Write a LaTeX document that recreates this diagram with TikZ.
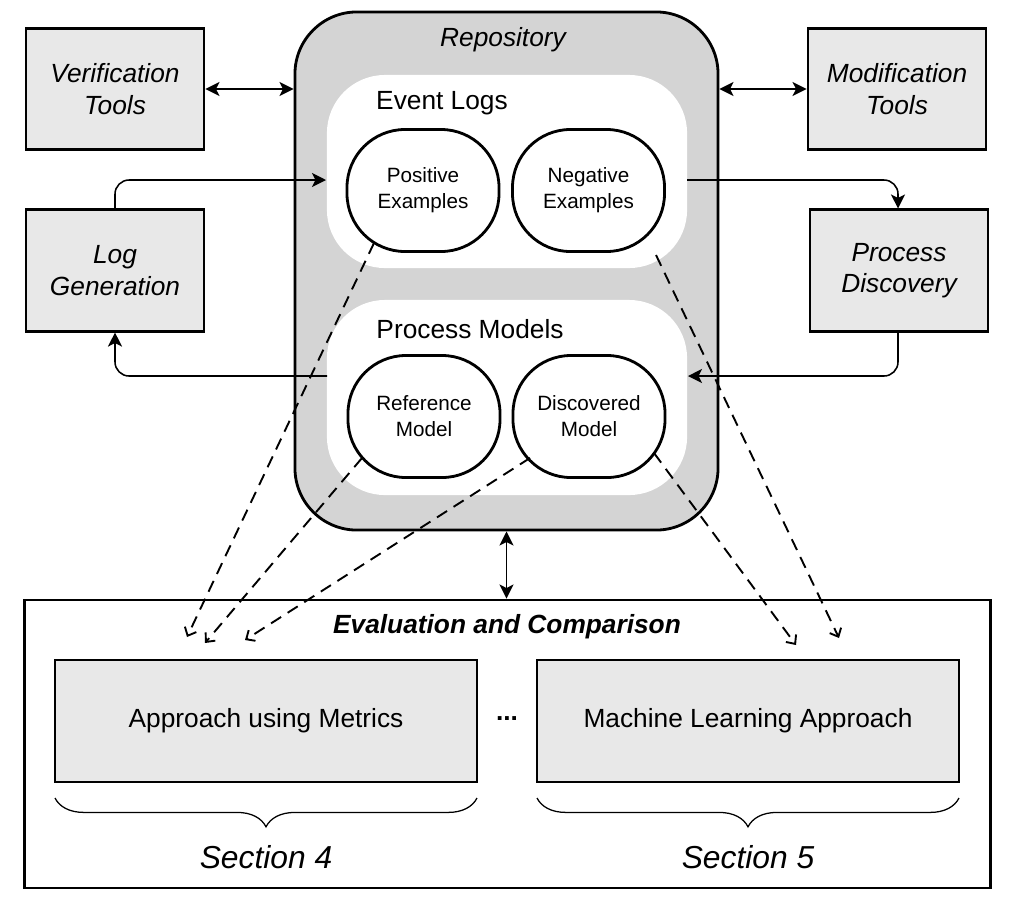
\documentclass[tikz,border=0pt]{standalone}
\usepackage{fontspec}
\setmainfont{Liberation Sans}
\usetikzlibrary{arrows.meta,shapes.geometric,decorations.pathreplacing,calc}
\definecolor{boxgray}{HTML}{E8E8E8}
\definecolor{repogray}{HTML}{D4D4D4}
\begin{document}
\begin{tikzpicture}[x=0.025cm,y=-0.025cm,
  bigfont/.style={font=\fontsize{18.7}{22.4}\selectfont},
  tool/.style={draw, line width=2pt, fill=boxgray, inner sep=0pt,
    minimum width=4.45cm, minimum height=3.03cm, align=center,
    font=\fontsize{18.7}{22.4}\selectfont\itshape},
  approach/.style={draw, line width=2pt, fill=boxgray, inner sep=0pt,
    minimum width=10.55cm, minimum height=3.05cm, align=center, bigfont},
  region/.style={fill=white, rounded corners=1.45cm, inner sep=0pt,
    minimum width=9cm},
  oval/.style={draw, line width=2pt, fill=white, rectangle, rounded corners=1.45cm, inner sep=0pt,
    minimum width=3.8cm, minimum height=3.05cm, align=center,
    font=\fontsize{14.7}{18.4}\selectfont},
  solidarrow/.style={line width=1.1pt, -{Stealth[length=10pt,width=10pt,inset=2.5pt]}},
  dbl/.style={line width=1.1pt, {Stealth[length=10pt,width=10pt,inset=2.5pt]}-{Stealth[length=10pt,width=10pt,inset=2.5pt]}},
  dasharrow/.style={line width=1.35pt, dash pattern=on 8.5pt off 5.5pt, -{Straight Barb[length=5pt,width=9pt]}},
  bracestyle/.style={line width=0.9pt, decorate, decoration={brace, mirror, amplitude=0.72cm}}
]
\useasboundingbox (0,0) rectangle (1010,909);

% repository
\node[draw, line width=2pt, fill=repogray, rounded corners=1.55cm, inner sep=0pt,
  minimum width=10.575cm, minimum height=12.95cm] (repo) at (506.5,271) {};
\node[font=\fontsize{18.7}{22.4}\selectfont\itshape] (repotitle) at (503,40) {Repository};
\node[region, minimum height=4.825cm] (evlogs) at (507,171.5) {};
\node[region, minimum height=4.875cm] (pm) at (507,397.5) {};
\node[bigfont] (evtitle) at (442,103) {Event Logs};
\node[bigfont] (pmtitle) at (470,329) {Process Models};
\node[oval] (pos) at (423,190.5) {Positive\\Examples};
\node[oval] (neg) at (588.5,190.5) {Negative\\Examples};
\node[oval] (ref) at (424,416.5) {Reference\\Model};
\node[oval] (disc) at (589,416.5) {Discovered\\Model};

% side tools
\node[tool] (ver) at (115,89) {Verification\\Tools};
\node[tool] (loggen) at (115,270.5) {Log\\Generation};
\node[tool] (mod) at (897,89) {Modification\\Tools};
\node[tool] (pd) at (899,270.5) {Process\\Discovery};

% evaluation
\node[draw, line width=2pt, inner sep=0pt, minimum width=24.125cm, minimum height=7.2cm] (eval) at (507.5,744) {};
\node[font=\fontsize{18.7}{22.4}\selectfont\bfseries\itshape] (evaltitle) at (507,627) {Evaluation and Comparison};
\node[approach] (metrics) at (266,721) {Approach using Metrics};
\node[approach] (ml) at (748,721) {Machine Learning Approach};
\node[font=\fontsize{18.7}{22.4}\selectfont\bfseries] (dots) at (507,719) {...};

% braces and section labels
\coordinate (b1l) at (55,798);
\coordinate (b1r) at (477,798);
\coordinate (b2l) at (537,798);
\coordinate (b2r) at (959,798);
\draw[bracestyle] (b1l) -- (b1r);
\draw[bracestyle] (b2l) -- (b2r);
\node[font=\fontsize{22.6}{27}\selectfont\itshape] (sec4) at (266,857) {Section 4};
\node[font=\fontsize{22.6}{27}\selectfont\itshape] (sec5) at (748,857) {Section 5};

% solid connectors
\coordinate (inL) at (326,180);
\coordinate (outR) at (687,180);
\coordinate (inR) at (688,376);
\coordinate (outL) at (327,376);
\draw[dbl] (ver.east) -- (ver.east -| repo.west);
\draw[dbl] (mod.west) -- (mod.west -| repo.east);
\draw[solidarrow, rounded corners=10pt] (loggen.north) |- (inL);
\draw[solidarrow, rounded corners=10pt] (outR) -| ($(pd.north)+(-1,0)$);
\draw[solidarrow, rounded corners=10pt] ($(pd.south)+(-1,0)$) |- (inR);
\draw[solidarrow, rounded corners=10pt] (outL) -| (loggen.south);
\draw[dbl] (repo.south) -- (repo.south |- eval.north);

% dashed connectors
\coordinate (t1) at (187,637);
\coordinate (t2) at (205,643);
\coordinate (t3) at (245,640);
\coordinate (t4) at (796,645);
\coordinate (t5) at (839,638);
\draw[dasharrow] ($(pos.center)+(-49,52.5)$) -- (t1);
\draw[dasharrow] ($(ref.center)+(-62,41.5)$) -- (t2);
\draw[dasharrow] ($(disc.center)+(-59,41.5)$) -- (t3);
\draw[dasharrow] ($(disc.center)+(65,36.5)$) -- (t4);
\draw[dasharrow] ($(neg.center)+(67.5,64.5)$) -- (t5);
\end{tikzpicture}
\end{document}
